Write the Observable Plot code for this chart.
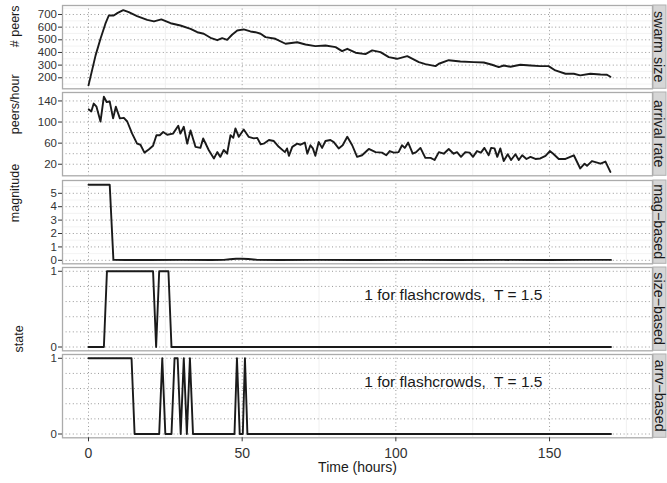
<!DOCTYPE html>
<html><head><meta charset="utf-8">
<script src="https://cdn.jsdelivr.net/npm/d3@7"></script>
<script src="https://cdn.jsdelivr.net/npm/@observablehq/plot@0.6"></script>
<style>
body{margin:0;background:#fff;}
#chart{position:relative;width:667px;height:483px;overflow:hidden;font-family:"Liberation Sans",Arial,Helvetica,sans-serif;}
#chart svg{position:absolute;left:0;overflow:visible;}
</style></head><body><div id="chart"></div>
<script>
// ---- data ----
const swarmTime = [0,2.3,3.9,5.5,6.6,8.2,9.5,11.3,13.1,15.8,19.1,21.3,23.7,26.7,29.9,33.2,35.4,37.5,39.7,41.9,43.5,45.1,46.7,48.4,50.5,52.7,54.3,56,57.6,60.8,64.1,67.9,70.6,73.8,77.1,80.4,82.5,84.2,86.9,90.1,92.3,95,97.7,100.4,103.7,107.5,109.6,112.9,114,117.2,121,125.3,128.6,131.3,133.5,135.1,137.3,140.5,143.8,147,149.7,151.9,155.2,157.9,160,163.3,166.6,168.7,169.8];
const swarmPeers = [140,377,508,627,692,692,713,734,718,687,658,645,661,631,613,587,560,548,516,497,513,500,540,574,582,566,560,548,521,508,469,481,463,450,455,442,411,429,398,387,416,403,363,350,371,324,308,292,311,339,329,324,321,303,284,297,287,303,297,292,292,258,232,232,219,232,226,224,208];

const arrivalTime = [0.1,0.9,1.7,2.6,3.9,5,5.9,6.9,8,8.9,10.2,11.5,12.6,14.2,15.8,16.9,18.2,19.6,21,22.1,23.2,24.3,25.6,27.5,29.2,29.9,31,32.1,33.2,34.8,36.4,37.3,39.1,40.8,41.9,42.9,44,45.1,46.2,47.1,47.8,48.9,50.5,52.1,53.8,54.9,56,57,58.7,60.3,61.9,63.9,64.6,65.2,66.3,67.9,69,70.4,71.2,72.2,73,73.8,74.9,76,77.1,78.7,79.8,81.4,82.7,84.2,85.8,87.4,89,91.2,93.4,95.5,96.9,98,99.3,100.9,102,102.9,104,105.5,106.6,108,109.6,111.3,112.6,114,115.6,117.2,118.8,119.9,121.2,122.6,124,125.1,126.4,127.7,128.8,130.2,131,132.1,133,134,135.1,136.4,137.5,138.9,140,141.1,142.5,143.8,145.4,147,148.7,150.1,151.2,153,155.2,157.9,160,161.4,162.2,163.8,166.6,168.2,169.8];
const arrivalRate = [124,120,135,129,101,148,138,139,107,129,107,108,101,78,59,57,42,48,55,75,75,81,76,78,93,78,91,59,84,53,51,69,47,31,43,34,47,40,75,70,88,72,86,72,69,70,58,59,66,64,53,43,50,36,53,59,57,61,40,56,50,36,62,51,64,66,62,50,56,72,56,34,37,49,43,42,37,45,42,43,56,51,61,40,43,51,32,32,28,43,40,49,40,43,34,43,42,34,45,42,51,37,51,50,34,50,26,39,28,39,28,37,30,34,30,31,36,45,40,30,30,37,12,21,17,26,21,25,5.5];

const magTime = [0,6.9,8.1,12,20,30,40,44,46,48,50,52,55,62,75,90,105,120,135,150,160,170];
const magValue = [5.64,5.64,0.03,0.02,0.02,0.03,0.02,0.03,0.08,0.12,0.12,0.1,0.03,0.02,0.03,0.02,0.03,0.02,0.03,0.02,0.03,0.03];

const sizeTime  = [0,5,6,21,22,23,26,27,170];
const sizeState = [0,0,1,1,0,1,1,0,0];

const arrvTime  = [0,14,15,23,24,25,27,28,29,30,31,32,33,34,47.5,48.3,49.2,50.2,50.9,51.7,170];
const arrvState = [1,1,0,0,1,0,0,1,1,0,1,0,1,0,0,1,0,0,1,0,0];

const stripLabels = ["swarm size","arrival rate","mag\u2212based","size\u2212based","arrv\u2212based"];
const yTitles = ["# peers","peers/hour","magnitude","",""];
const xTicks = [0,50,100,150];
const xMinor = [25,75,125,175];
const annotation = {x:118.7, y:0.68, text:"1 for flashcrowds,  T = 1.5"};

// ---- layout ----
const W = 667, ML = 62, MR = 15, PH = 83.3, STEP = 87.25, TOP0 = 5, M = 20;
const xDomain = [-8.46, 183.5];
const FONT = '"Liberation Sans", Arial, Helvetica, sans-serif';

const panels = [
  {t: swarmTime, v: swarmPeers, domain:[113,771], ticks:[200,300,400,500,600,700], grid:[200,300,400,500,600,700], minor:[150,250,350,450,550,650,750]},
  {t: arrivalTime, v: arrivalRate, domain:[-1.9,156], ticks:[20,60,100,140], grid:[20,40,60,80,100,120,140], minor:[]},
  {t: magTime, v: magValue, domain:[-0.26,5.955], ticks:[0,1,2,3,4,5], grid:[0,1,2,3,4,5], minor:[0.5,1.5,2.5,3.5,4.5,5.5]},
  {t: sizeTime, v: sizeState, domain:[-0.05,1.05], ticks:[0,1], grid:[0,0.2,0.4,0.6,0.8,1], minor:[], note:true},
  {t: arrvTime, v: arrvState, domain:[-0.05,1.05], ticks:[0,1], grid:[0,0.2,0.4,0.6,0.8,1], minor:[], note:true}
];

const chart = document.getElementById("chart");
panels.forEach((p, i) => {
  const last = i === panels.length - 1;
  const top = TOP0 + STEP * i;
  const mb = last ? 483 - (top + PH) : M;
  const data = p.t.map((t, j) => ({t, v: p.v[j]}));
  const marks = [
    Plot.ruleX(xMinor, {stroke: "#ececec", strokeWidth: 0.8}),
    Plot.ruleY(p.minor, {stroke: "#f0f0f0", strokeWidth: 0.8}),
    Plot.ruleX(xTicks, {stroke: "#8c8c8c", strokeWidth: 0.9, strokeDasharray: "1,2.6"}),
    Plot.ruleY(p.grid, {stroke: "#8c8c8c", strokeWidth: 0.9, strokeDasharray: "1,2.6"}),
    Plot.line(data, {x: "t", y: "v", stroke: "#1a1a1a", strokeWidth: 1.9}),
    Plot.frame({stroke: "#ababab", strokeWidth: 1.3}),
    Plot.axisY({ticks: p.ticks, tickFormat: d3.format("d"), tickSize: 4, tickPadding: 1.5, fontSize: 11.5, label: null, anchor: "left"})
  ];
  if (yTitles[i]) marks.push(Plot.text([yTitles[i]], {text: d => d, frameAnchor: "left", dx: -47.5, rotate: -90, fontSize: 12.5, fill: "#1a1a1a"}));
  if (p.note) marks.push(Plot.text([annotation], {x: "x", y: "y", text: "text", fontSize: 15.5, fill: "#1a1a1a"}));
  if (last) {
    marks.push(Plot.axisX({ticks: xTicks, tickFormat: d3.format("d"), tickSize: 4, tickPadding: 6, fontSize: 14, label: null, anchor: "bottom"}));
    marks.push(Plot.text(["Time (hours)"], {text: d => d, frameAnchor: "bottom", dy: 34.5, fontSize: 14, fill: "#1a1a1a"}));
    marks.push(Plot.text(["state"], {text: d => d, frameAnchor: "top-left", dx: -48, dy: -2, rotate: -90, fontSize: 12.5, fill: "#1a1a1a"}));
  }
  const plot = Plot.plot({
    width: W, height: M + PH + mb,
    marginLeft: ML, marginRight: MR, marginTop: M, marginBottom: mb,
    x: {domain: xDomain, axis: null},
    y: {domain: p.domain, axis: null},
    style: {background: "transparent", overflow: "visible", color: "#333", fontFamily: FONT},
    marks
  });
  plot.style.top = (top - M) + "px";
  const svg = d3.select(plot);
  svg.append("rect").attr("x", 653).attr("y", M).attr("width", 13).attr("height", PH)
    .attr("fill", "#d6d6d6").attr("stroke", "#b0b0b0").attr("stroke-width", 1);
  svg.append("text").attr("transform", `translate(659.5,${M + PH / 2}) rotate(90)`)
    .attr("text-anchor", "middle").attr("dominant-baseline", "central")
    .attr("font-size", 14.3).attr("fill", "#1a1a1a").attr("font-family", FONT)
    .text(stripLabels[i]);
  chart.appendChild(plot);
});
</script></body></html>
